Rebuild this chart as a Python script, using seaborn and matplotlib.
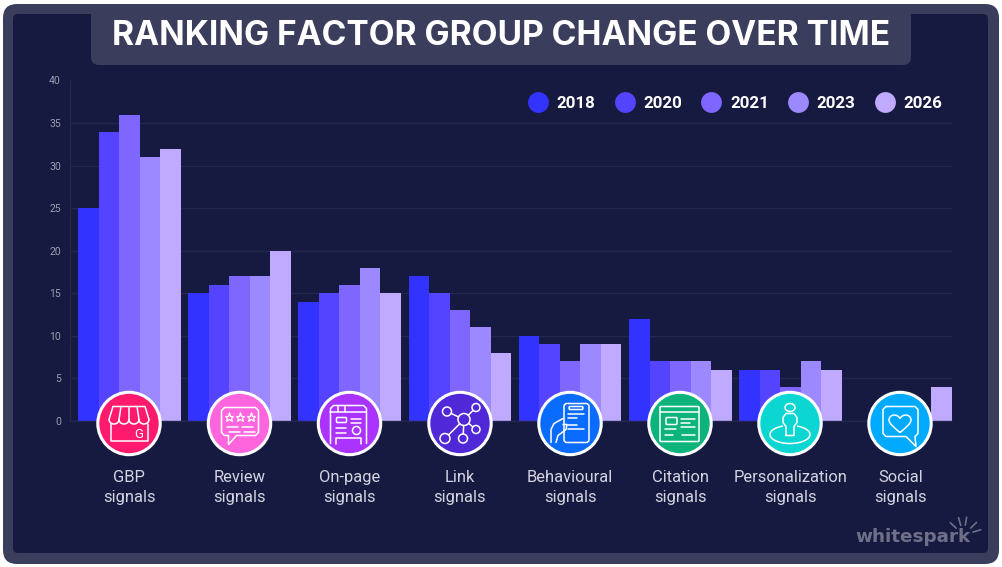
import numpy as np
import pandas as pd
import seaborn as sns
import matplotlib
matplotlib.use("Agg")
import matplotlib.pyplot as plt
from matplotlib.patches import FancyBboxPatch, Circle, Ellipse, Arc, PathPatch
from matplotlib.path import Path
from matplotlib.lines import Line2D

categories = ["GBP\nsignals", "Review\nsignals", "On-page\nsignals", "Link\nsignals",
              "Behavioural\nsignals", "Citation\nsignals", "Personalization\nsignals", "Social\nsignals"]
years = ["2018", "2020", "2021", "2023", "2026"]
v2018 = [25, 15, 14, 17, 10, 12, 6, 0]
v2020 = [34, 16, 15, 15, 9, 7, 6, 0]
v2021 = [36, 17, 16, 13, 7, 7, 4, 0]
v2023 = [31, 17, 18, 11, 9, 7, 7, 0]
v2026 = [32, 20, 15, 8, 9, 6, 6, 4]
colors = ["#3333ff", "#5544ff", "#7f66ff", "#9c88ff", "#bfaaff"]
icon_colors = ["#ff1a6e", "#ff66dd", "#aa33ff", "#5028d8", "#0a6cff", "#0cb47c", "#0cd6d2", "#00aaff"]
title = "RANKING FACTOR GROUP CHANGE OVER TIME"

W, H = 1003, 567
BG, FRAME, GRID = "#161a40", "#3b3d5c", "#23264d"
sns.set_theme(style="dark")
plt.rcParams["font.family"] = ["Roboto", "DejaVu Sans"]

fig = plt.figure(figsize=(W / 100, H / 100), dpi=100, facecolor="white")

back = fig.add_axes([0, 0, 1, 1], zorder=0)
back.set_xlim(0, W); back.set_ylim(H, 0); back.axis("off")
back.add_patch(FancyBboxPatch((15, 16), 972, 536, boxstyle="round,pad=12,rounding_size=14", fc=FRAME, ec="none"))
back.add_patch(FancyBboxPatch((17, 18), 967, 531, boxstyle="round,pad=4,rounding_size=5", fc=BG, ec="none"))
back.add_patch(FancyBboxPatch((99, 0), 804, 57, boxstyle="round,pad=8,rounding_size=8", fc=FRAME, ec="none"))
back.add_patch(plt.Rectangle((0, -5), W, 9, fc="white", ec="none"))
back.text(501, 36, title, family=["Inter", "DejaVu Sans"], weight="bold", size=24.1, color="white", ha="center", va="center")

df = pd.DataFrame({"category": categories * 5,
                   "year": np.repeat(years, 8),
                   "value": v2018 + v2020 + v2021 + v2023 + v2026})

ax = fig.add_axes([70 / W, 1 - 421 / H, 882 / W, (421 - 80.5) / H], zorder=1)
ax.patch.set_alpha(0)
sns.barplot(data=df, x="category", y="value", hue="year", order=categories, hue_order=years,
            palette=colors, saturation=1, width=0.93, gap=0, legend=False, ax=ax, linewidth=0, errorbar=None)
ax.set_xlim((70 - 129.3) / 110.2, (952 - 129.3) / 110.2)
ax.set_ylim(0, 40)
ax.set_yticks(range(0, 41, 5))
ax.set_xlabel(""); ax.set_ylabel("")
ax.set_axisbelow(True)
ax.grid(axis="y", color=GRID, lw=1)
ax.grid(axis="x", visible=False)
for s in ["top", "right"]:
    ax.spines[s].set_visible(False)
for s in ["left", "bottom"]:
    ax.spines[s].set_color(GRID); ax.spines[s].set_linewidth(1)
ax.tick_params(axis="y", length=0, pad=6.5, labelsize=7.5, labelcolor="#9d9eb3")
ax.tick_params(axis="x", length=0, pad=35.2)
for t in ax.get_xticklabels():
    t.set_fontsize(11.9); t.set_color("#d4d4e0"); t.set_linespacing(1.42)

handles = [Line2D([], [], marker="o", ls="", ms=15, mfc=c, mec="none") for c in colors]
fg = fig.add_axes([0, 0, 1, 1], zorder=2)
fg.set_xlim(0, W); fg.set_ylim(H, 0); fg.axis("off"); fg.patch.set_alpha(0)
leg = fg.legend(handles, years, ncol=5, frameon=False, loc="center", bbox_to_anchor=(735, 103),
                bbox_transform=fg.transData, borderpad=0, borderaxespad=0, handlelength=1.24,
                handletextpad=0.47, columnspacing=1.12, prop={"family": "Roboto", "weight": "bold", "size": 12.2})
for t in leg.get_texts():
    t.set_color("white")

LW = 1.1
class Ic:
    def __init__(s, cx, cy, col):
        s.cx, s.cy = cx, cy
        fg.add_patch(Circle((cx, cy), 31.2, fc=col, ec="white", lw=2.2, zorder=3))
    def kw(s):
        return dict(fc="none", ec="white", lw=LW, zorder=4)
    def line(s, *pts):
        fg.plot([s.cx + p[0] for p in pts], [s.cy + p[1] for p in pts], color="white", lw=LW,
                solid_capstyle="round", solid_joinstyle="round", zorder=4)
    def rect(s, x0, y0, x1, y1, r=1.5):
        fg.add_patch(FancyBboxPatch((s.cx + x0 + r, s.cy + y0 + r), x1 - x0 - 2 * r, y1 - y0 - 2 * r,
                                    boxstyle=f"round,pad={r},rounding_size={r}", **s.kw()))
    def circ(s, x, y, r):
        fg.add_patch(Circle((s.cx + x, s.cy + y), r, **s.kw()))
    def ell(s, x, y, w, h):
        fg.add_patch(Ellipse((s.cx + x, s.cy + y), w, h, **s.kw()))
    def arc(s, x, y, w, h, a, b):
        fg.add_patch(Arc((s.cx + x, s.cy + y), w, h, theta1=a, theta2=b, color="white", lw=LW, zorder=4))
    def star(s, x, y, ms=6.5):
        fg.plot([s.cx + x], [s.cy + y], marker="*", ms=ms, mfc="none", mec="white", mew=0.9, zorder=4)
    def heart(s, x, y, k):
        v = [(0, .9), (-.6, .4), (-1.1, 0), (-1.1, -.35), (-1.1, -.9), (-.3, -1.05), (0, -.5),
             (.3, -1.05), (1.1, -.9), (1.1, -.35), (1.1, 0), (.6, .4), (0, .9)]
        v = [(s.cx + x + a * k, s.cy + y + b * k) for a, b in v]
        c = [Path.MOVETO] + [Path.CURVE4] * 12
        fg.add_patch(PathPatch(Path(v, c), **s.kw()))

cx = [129, 239.5, 349.5, 460, 570, 680, 790, 900]
cy = 423.5
# GBP
i = Ic(cx[0], cy, icon_colors[0])
i.line((-16, -17), (16, -17), (20, -4)); i.line((-16, -17), (-20, -4))
for x in [-15, -5, 5, 15]:
    i.arc(x, -4, 10, 9, 0, 180)
i.line((-8, -17), (-10, -4)); i.line((0, -17), (0, -4)); i.line((8, -17), (10, -4))
i.line((-18, 0), (-18, 17), (19, 17), (19, 0))
fg.text(cx[0] + 9.5, cy + 10.5, "G", color="white", size=9.5, ha="center", va="center", zorder=4)
# Review
i = Ic(cx[1], cy, icon_colors[1])
i.line((-15, -16), (16, -16), (19, -13), (19, 9), (16, 12), (-3, 12), (-11, 21), (-11, 12), (-15, 12), (-18, 9), (-18, -13), (-15, -16))
for x in [-10, 1, 12]:
    i.star(x, -7)
i.line((-12, 3), (-1, 3)); i.line((3, 3), (14, 3)); i.line((-10, 8), (1, 8)); i.line((5, 8), (16, 8))
# On-page
i = Ic(cx[2], cy, icon_colors[2])
i.line((-19, 20), (-19, -15), (-16, -18), (14, -18), (17, -15), (17, 20))
i.line((-19, -12), (17, -12)); i.line((-11, -18), (-11, -12)); i.line((-4, -18), (-4, -12))
i.rect(-13, -6, -3, -1, 1)
i.line((2, -5), (12, -5)); i.line((2, -1), (12, -1))
i.line((-13, 4), (-3, 4)); i.line((-13, 9), (-3, 9))
i.circ(7, 7, 4)
i.line((-13, 20), (-13, 14), (12, 14), (12, 20))
# Link
i = Ic(cx[3], cy, icon_colors[3])
i.circ(4, -4, 6)
nodes = [(-13, -12, 4.5), (16, -16, 4), (16, 6, 4), (3, 15, 4.5), (-15, 15, 5)]
for x, y, r in nodes:
    i.circ(x, y, r)
    d = np.hypot(x - 4, y + 4)
    ux, uy = (x - 4) / d, (y + 4) / d
    i.line((4 + 6 * ux, -4 + 6 * uy), (x - r * ux, y - r * uy))
# Behavioural
i = Ic(cx[4], cy, icon_colors[4])
i.rect(-6, -20, 19, 19, 3)
i.rect(-1, -17, 13, -14, 1.2)
for y, x1 in [(-10, 14), (-6, 7), (1, 7), (5, 14)]:
    i.line((-2, y), (x1, y))
i.line((-19, 19), (-19, 6), (-16, 0), (-7, -5))
i.line((-14, 19), (-12, 12), (-4, 6), (-3, 1), (-7, 1))
# Citation
i = Ic(cx[5], cy, icon_colors[5])
i.rect(-20, -17, 19, 18, 0.8)
i.line((-20, -12), (19, -12))
i.rect(-14, -6, -3, 1, 1)
i.line((1, -5), (15, -5)); i.line((1, -1), (10, -1)); i.line((1, 3), (15, 3))
i.line((-15, 5), (-4, 5)); i.line((-15, 11), (-7, 11)); i.line((2, 11), (15, 11))
# Personalization
i = Ic(cx[6], cy, icon_colors[6])
i.ell(0, -16, 10, 8)
i.line((-4, 12), (-4, 3), (-7, -1), (-7, -6), (-4, -10), (4, -10), (7, -6), (7, -1), (4, 3), (4, 12), (-4, 12))
i.arc(0, 11, 40, 18, -50, 230)
# Social
i = Ic(cx[7], cy, icon_colors[7])
i.line((-14, -17), (15, -17), (18, -14), (18, 10), (15, 13), (16, 23), (6, 13), (-14, 13), (-17, 10), (-17, -14), (-14, -17))
i.heart(0, 0, 10)

# whitespark mark
fg.text(913, 537, "whitespark", family="DejaVu Sans", weight="bold", size=13.2, color="#6f7088", ha="center", va="center", zorder=4)
for a in [17, 44, 80, 106, 137]:
    r = np.deg2rad(a)
    ca, sa = np.cos(r), np.sin(r)
    fg.plot([963.5 + 10 * ca, 963.5 + 18 * ca], [535 - 10 * sa, 535 - 18 * sa], color="#6f7088", lw=1.2, zorder=4)

fig.savefig("out.png", dpi=100, facecolor="white")
